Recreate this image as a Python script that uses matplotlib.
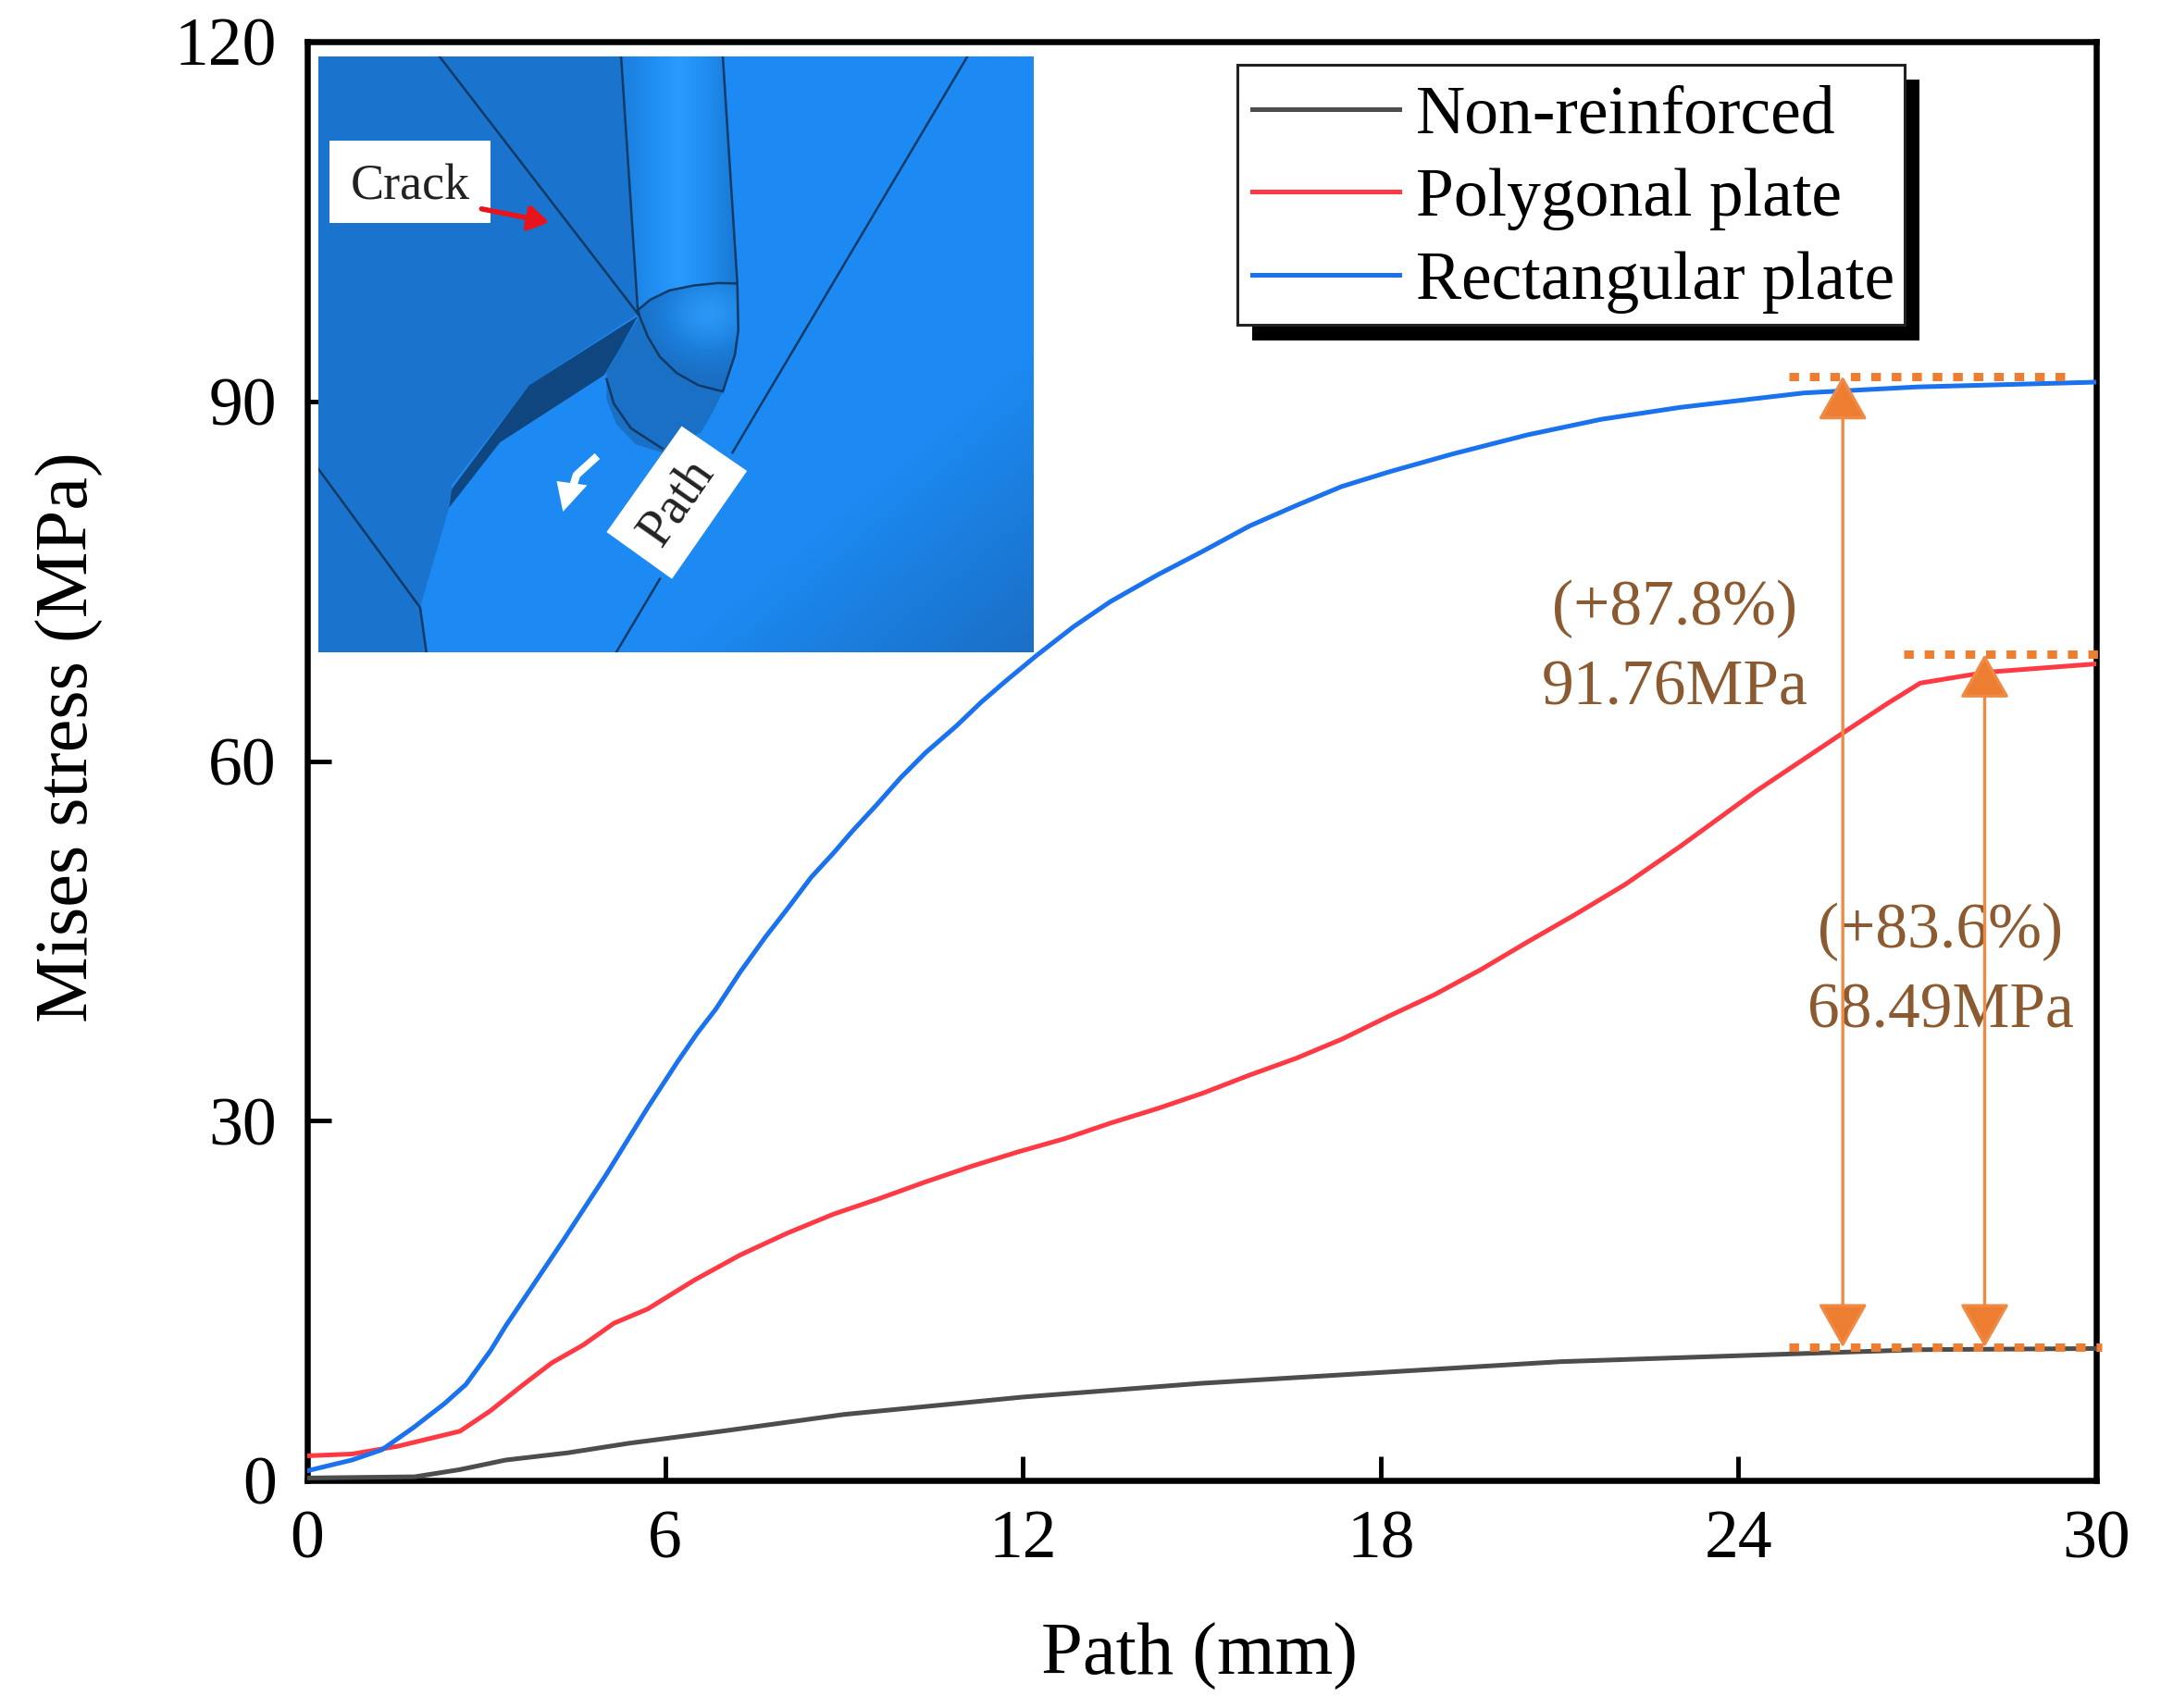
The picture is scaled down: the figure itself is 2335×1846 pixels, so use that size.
import numpy as np
import matplotlib
matplotlib.use('Agg')
import matplotlib.pyplot as plt
from matplotlib.patches import Polygon, Rectangle
from matplotlib.colors import LinearSegmentedColormap

plt.rcParams['font.family'] = ['Liberation Serif', 'DejaVu Serif']

# curves (mm, MPa)
x_black = [0, 1.8, 2.56, 3.33, 4.37, 5.4, 6.95, 9, 12, 15, 18, 21, 24, 27, 30]
y_black = [0.2, 0.3, 0.9, 1.7, 2.3, 3.1, 4.1, 5.5, 6.95, 8.1, 9.0, 9.9, 10.4, 10.9, 11.0]

x_red = [0, 0.75, 1.52, 2.56, 3.07, 3.6, 4.1, 4.63, 5.14, 5.71, 6.49, 7.26, 8.04, 8.82, 9.59, 10.37, 11.14,
         11.92, 12.7, 13.47, 14.25, 15.02, 15.8, 16.58, 17.35, 18.13, 18.9, 19.68, 20.46, 21.23, 22.1,
         23.03, 24.3, 25.74, 26.5, 27.05, 28.15, 30]
y_red = [2.05, 2.2, 2.85, 4.1, 5.8, 7.9, 9.8, 11.3, 13.1, 14.3, 16.7, 18.8, 20.6, 22.2, 23.5, 24.9, 26.2,
         27.4, 28.5, 29.8, 31.0, 32.3, 33.8, 35.2, 36.8, 38.7, 40.5, 42.6, 44.9, 47.1, 49.7,
         52.9, 57.5, 62.3, 64.8, 66.5, 67.4, 68.1]

x_blue = [0, 0.75, 1.25, 1.78, 2.3, 2.66, 3.07, 3.33, 3.75, 4.29, 5, 5.71, 6.22, 6.54, 6.85, 7.26, 7.68, 8.04,
          8.45, 8.82, 9.15, 9.54, 9.95, 10.37, 10.88, 11.3, 11.72, 12.23, 12.85, 13.47, 14.25, 15.02, 15.8,
          16.58, 17.35, 18.13, 19.2, 20.46, 21.7, 23.03, 25.1, 27, 30]
y_blue = [0.8, 1.7, 2.55, 4.4, 6.4, 8.0, 10.8, 12.9, 16, 20, 25.4, 31.1, 35.0, 37.3, 39.3, 42.4, 45.3, 47.6,
          50.3, 52.3, 54.2, 56.3, 58.6, 60.7, 62.9, 64.9, 66.7, 68.8, 71.2, 73.3, 75.5, 77.5, 79.6,
          81.3, 82.9, 84.1, 85.6, 87.2, 88.5, 89.5, 90.7, 91.2, 91.6]

series_names = ['Non-reinforced', 'Polygonal plate', 'Rectangular plate']
series_colors = ['#4d4d4d', '#ff3a44', '#1a72ee']

x_ticks = [0, 6, 12, 18, 24, 30]
y_ticks = [0, 30, 60, 90, 120]

ORANGE = '#ed7d31'
BROWN = '#8c5a30'

W, H = 2335, 1846
fig = plt.figure(figsize=(W / 100, H / 100), dpi=100)
ax = fig.add_axes([332 / W, 1 - 1600 / H, (2265 - 332) / W, (1600 - 45) / H])

for xs, ys, name, col in zip([x_black, x_red, x_blue], [y_black, y_red, y_blue], series_names, series_colors):
    ax.plot(xs, ys, color=col, lw=3.6, label=name, zorder=3, solid_joinstyle='round')

ax.set_xlim(0, 30)
ax.set_ylim(0, 120)
ax.set_xticks(x_ticks)
ax.set_yticks(y_ticks)
ax.tick_params(axis='x', direction='in', length=19, width=3.5, labelsize=53, pad=23)
ax.tick_params(axis='y', direction='in', length=19, width=3.5, labelsize=53, pad=24)
for s in ax.spines.values():
    s.set_linewidth(4.7)
fig.text(1296 / W, 1 - 1790 / H, 'Path (mm)', fontsize=58, ha='center', va='center')
fig.text(75 / W, 1 - 797 / H, 'Mises stress (MPa)', fontsize=58, rotation=90, ha='center', va='center')

# orange dotted reference levels and double arrows
dots = (0, (1.15, 1.3))
ax.plot([24.85, 29.6], [92.1, 92.1], color=ORANGE, lw=6.5, ls=dots, zorder=4)
ax.plot([26.77, 30.1], [68.9, 68.9], color=ORANGE, lw=6.5, ls=dots, zorder=4, clip_on=False)
ax.plot([24.85, 30.1], [11.1, 11.1], color=ORANGE, lw=6.5, ls=dots, zorder=4, clip_on=False)
for ax_x, top in [(25.75, 92.1), (28.13, 68.9)]:
    ax.annotate('', xy=(ax_x, top), xytext=(ax_x, 11.1), zorder=5,
                arrowprops=dict(arrowstyle='<|-|>,head_length=3.0,head_width=1.7', mutation_scale=10,
                                color='#ef8a45', lw=2.4, shrinkA=0, shrinkB=0, fc=ORANGE, ec='#ef8a45'))

ax.text(22.93, 72.7, '(+87.8%)', color=BROWN, fontsize=50, ha='center', va='center', zorder=2)
ax.text(22.93, 66.0, '91.76MPa', color=BROWN, fontsize=50, ha='center', va='center', zorder=2)
ax.text(27.39, 45.7, '(+83.6%)', color=BROWN, fontsize=50, ha='center', va='center', zorder=2)
ax.text(27.39, 39.1, '68.49MPa', color=BROWN, fontsize=50, ha='center', va='center', zorder=2)

# legend box and its shadow are separate so the padding can follow the picture
fig_tr = fig.transFigure
ax.add_patch(Rectangle((1353 / W, 1 - 368 / H), 721 / W, 282 / H, transform=fig_tr, fc='black', ec='none',
                       zorder=5.5, clip_on=False))
ax.add_patch(Rectangle((1337 / W, 1 - 351 / H), 721 / W, 281 / H, transform=fig_tr, fc='white', ec='#222222',
                       lw=2.2, zorder=5.6, clip_on=False))
leg = ax.legend(loc='upper left', bbox_to_anchor=(1353 / W, 1 - 92 / H), bbox_transform=fig_tr,
                fontsize=53, handlelength=2.16, handletextpad=0.245, labelspacing=0.3, borderpad=0,
                borderaxespad=0, frameon=False)
leg.set_zorder(6)

# FE model picture in the corner, drawn in a small axes of its own
ins = fig.add_axes([344 / W, 1 - 705 / H, (1117 - 344) / W, (705 - 61) / H], zorder=5)
LW = 1.8
EDGE = '#103a66'

shade = LinearSegmentedColormap.from_list('shade', ['#1c8af2', '#1c8af2', '#1a6fc6'])
gx, gy = np.meshgrid(np.linspace(0, 1, 120), np.linspace(0, 1, 120))
ins.imshow(np.clip((gx + gy - 1.0), 0, 1), cmap=shade, extent=(45, 1522, 1510, 48), aspect='auto', zorder=1)

left_dark = [(45, 48), (670, 48), (705, 680), (480, 855), (320, 1100), (315, 1155), (255, 1400), (268, 1510), (45, 1510)]
ins.add_patch(Polygon(left_dark, fc='#1a73cc', ec='none', zorder=2))
crack = [(705, 685), (480, 855), (320, 1110), (315, 1155), (420, 995), (635, 830), (665, 770)]
ins.add_patch(Polygon(crack, fc='#10467f', ec='none', zorder=3))

# weld tube with its shine across
tube = Polygon([(670, 48), (880, 48), (910, 605), (870, 604), (820, 610), (770, 622), (730, 645), (705, 670)],
               fc='none', ec='none', zorder=3)
ins.add_patch(tube)
shine = LinearSegmentedColormap.from_list('shine', ['#1c7fdc', '#1f8cf0', '#2a9bff', '#1f8cf0', '#1a78d2'])
im = ins.imshow(np.linspace(0, 1, 100)[None, :], cmap=shine, extent=(670, 910, 1510, 48), aspect='auto', zorder=3)
im.set_clip_path(tube)

# lower collar first, the dome sits on it
collar = Polygon([(708, 685), (725, 735), (750, 785), (785, 825), (830, 855), (880, 870), (860, 920), (835, 970),
                  (755, 1020), (700, 1000), (660, 950), (640, 890), (640, 820)],
                 fc='#1a70c4', ec='none', zorder=4)
ins.add_patch(collar)
ins.plot([640, 655, 690, 755], [840, 900, 960, 1010], color=EDGE, lw=LW, zorder=5)

dome = Polygon([(705, 670), (730, 645), (770, 622), (820, 610), (870, 604), (910, 605), (912, 720), (905, 780),
                (880, 870), (830, 855), (785, 825), (750, 785), (725, 735), (708, 685)],
               fc='none', ec=EDGE, lw=LW, zorder=5)
ins.add_patch(dome)
dx, dy = np.meshgrid(np.linspace(700, 915, 80), np.linspace(600, 875, 80))
glow = np.exp(-((dx - 850) ** 2 + (dy - 680) ** 2) / 11000)
cap = LinearSegmentedColormap.from_list('cap', ['#1a6cc0', '#1c7fdc', '#2a96f5'])
im2 = ins.imshow(glow, cmap=cap, extent=(700, 915, 875, 600), aspect='auto', zorder=4.5)
im2.set_clip_path(dome)

for lx, ly in [([295, 705], [48, 680]), ([1385, 900], [48, 1020]), ([750, 660], [1330, 1510]),
               ([45, 255, 268], [1060, 1400, 1510]), ([670, 705], [48, 680]), ([880, 910], [48, 605])]:
    ins.plot(lx, ly, color=EDGE, lw=LW, zorder=5)

ins.add_patch(Polygon([(68, 255), (400, 255), (400, 457), (68, 457)], fc='white', ec='none', zorder=6))
ins.text(234, 368, 'Crack', fontsize=39, ha='center', va='center', color='#222222', zorder=7)
ins.annotate('', xy=(522, 455), xytext=(382, 422), zorder=7,
             arrowprops=dict(arrowstyle='-|>,head_length=1.3,head_width=0.8', mutation_scale=10,
                             color='#e8141c', lw=4, shrinkA=0, shrinkB=0))

ins.add_patch(Polygon([(795, 955), (930, 1065), (775, 1330), (640, 1215)], fc='white', ec='none', zorder=6))
ins.text(785, 1143, 'Path', fontsize=41, rotation=55, rotation_mode='anchor', ha='center', va='center',
         color='#222222', zorder=7)

ins.plot([615, 578, 566], [1035, 1075, 1120], color='white', lw=6, zorder=6)
ins.add_patch(Polygon([(537, 1090), (600, 1100), (550, 1165)], fc='white', ec='none', zorder=6))

ins.set_xlim(45, 1522)
ins.set_ylim(1510, 48)
ins.axis('off')

fig.savefig('out.png', dpi=100)
